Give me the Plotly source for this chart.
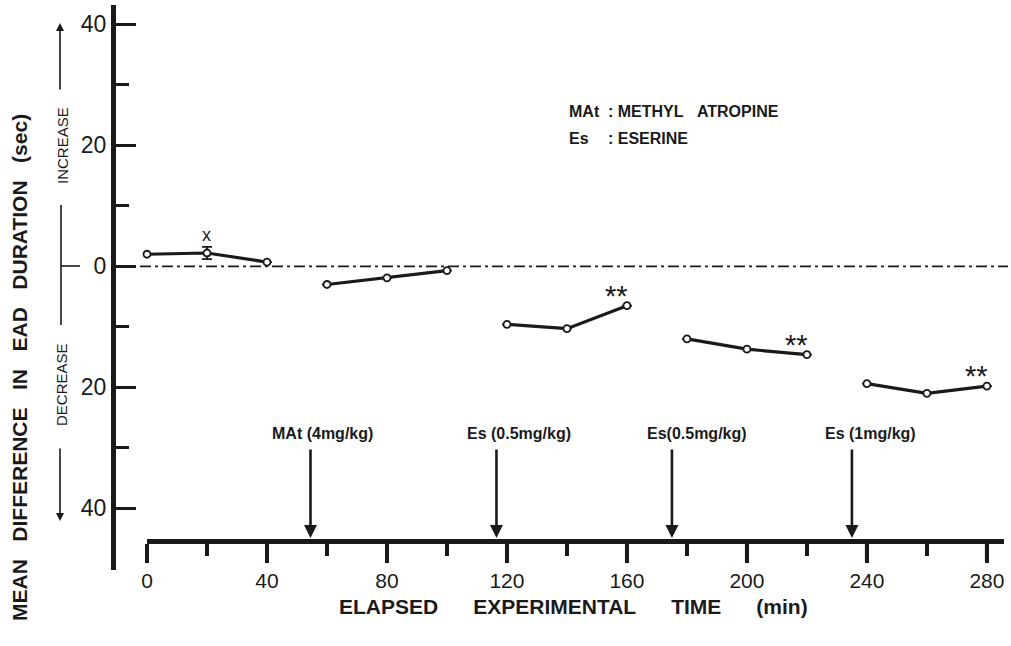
import plotly.graph_objects as go

# ---------------- data ----------------
group_times = [[0, 20, 40], [60, 80, 100], [120, 140, 160], [180, 200, 220], [240, 260, 280]]
group_means = [[2.0, 2.2, 0.7], [-3.0, -1.9, -0.7], [-9.6, -10.3, -6.5],
               [-12.0, -13.7, -14.6], [-19.4, -21.0, -19.8]]
group_errors = [[None, 1.0, None], [None] * 3, [None] * 3, [None] * 3, [None] * 3]
significant_groups = [2, 3, 4]          # '**' on last point of these groups
x_marked_group, x_marked_index = 0, 1   # 'x' mark

drug_times = [54.5, 116.5, 175, 235]
drug_labels = ["MAt (4mg/kg)", "Es (0.5mg/kg)", "Es(0.5mg/kg)", "Es (1mg/kg)"]
drug_label_shift_px = [-40, -31, -27, -29]

y_tickvals = [40, 20, 0, -20, -40]
y_ticktext = ["40", "20", "0", "20", "40"]
y_minorvals = [30, 10, -10, -30]
x_tickvals = [0, 40, 80, 120, 160, 200, 240, 280]
x_minorvals = [20, 60, 100, 140, 180, 220, 260]

# ---------------- layout geometry ----------------
L, R, T, B = 113, 7, 5, 76
W, H = 1011 - L - R, 646 - T - B
def px(x):
    return (x - L) / W
def py(y):
    return (646 - B - y) / H

Y_RANGE = [-50.2, 43.2]
X_RANGE = [0, 285.7]
def ydata(ypix):
    # pixel row -> data value on the y axis
    return Y_RANGE[1] - (ypix - T) * (Y_RANGE[1] - Y_RANGE[0]) / H

INK = "#1a1a1a"
FONT = "Liberation Sans Narrow, Arial Narrow, Liberation Sans, Arial, sans-serif"
BFONT = "Liberation Sans, Arial, sans-serif"
nb = "\u00a0"
XAXIS_ROW = 541

fig = go.Figure()
for t, m, e in zip(group_times, group_means, group_errors):
    fig.add_trace(go.Scatter(
        x=t, y=m, mode="lines+markers", cliponaxis=False,
        line=dict(color=INK, width=3.2),
        marker=dict(symbol="circle", size=7, color="white", line=dict(color=INK, width=1.8)),
        error_y=dict(type="data", array=e, visible=True, color=INK, thickness=1.8, width=5),
        showlegend=False, hoverinfo="skip"))

annotations = []
# significance marks
for g in significant_groups:
    annotations.append(dict(x=group_times[g][-1], y=group_means[g][-1], xref="x", yref="y",
                            text="**", showarrow=False, xshift=-10, yshift=-8, yanchor="bottom",
                            xanchor="center", font=dict(size=29, color=INK, family=BFONT)))
annotations.append(dict(x=group_times[x_marked_group][x_marked_index],
                        y=group_means[x_marked_group][x_marked_index], xref="x", yref="y",
                        text="x", showarrow=False, yshift=18, yanchor="middle", xanchor="center",
                        font=dict(size=18, color=INK, family=BFONT)))

# drug administration arrows + labels
for t, lab, sh in zip(drug_times, drug_labels, drug_label_shift_px):
    annotations.append(dict(x=t, y=ydata(538), xref="x", yref="y", axref="x", ayref="y",
                            ax=t, ay=ydata(448), text="", showarrow=True, arrowhead=2,
                            arrowsize=1, arrowwidth=2.6, arrowcolor=INK, standoff=0))
    annotations.append(dict(x=t, y=ydata(433), xref="x", yref="y", text="<b>%s</b>" % lab,
                            showarrow=False, xanchor="left", xshift=sh, yanchor="middle",
                            font=dict(size=16, color=INK, family=FONT)))

# key
key_font = dict(size=16, color=INK, family=BFONT)
annotations += [
    dict(x=px(567), y=py(112), xref="paper", yref="paper", text="<b>MAt</b>", showarrow=False,
         xanchor="left", yanchor="middle", font=key_font),
    dict(x=px(606), y=py(112), xref="paper", yref="paper",
         text="<b>:" + nb + "METHYL" + nb * 3 + "ATROPINE</b>", showarrow=False,
         xanchor="left", yanchor="middle", font=key_font),
    dict(x=px(567), y=py(139), xref="paper", yref="paper", text="<b>Es</b>", showarrow=False,
         xanchor="left", yanchor="middle", font=key_font),
    dict(x=px(606), y=py(139), xref="paper", yref="paper",
         text="<b>:" + nb + "ESERINE</b>", showarrow=False,
         xanchor="left", yanchor="middle", font=key_font),
]

# axis titles
annotations.append(dict(x=px(573), y=py(606), xref="paper", yref="paper",
                        text="<b>ELAPSED" + nb * 6 + "EXPERIMENTAL" + nb * 6 + "TIME" + nb * 6 + "(min)</b>",
                        showarrow=False, xanchor="center", yanchor="middle",
                        font=dict(size=21, color=INK, family=BFONT)))
annotations.append(dict(x=px(19), y=py(368), xref="paper", yref="paper", textangle=-90,
                        text="<b>MEAN" + nb * 3 + "DIFFERENCE" + nb * 3 + "IN" + nb * 3 + "EAD" + nb * 3
                             + "DURATION" + nb * 3 + "(sec)</b>",
                        showarrow=False, xanchor="center", yanchor="middle",
                        font=dict(size=21, color=INK, family=BFONT)))

# increase / decrease indicator
annotations += [
    dict(x=px(62), y=py(146), xref="paper", yref="paper", text="INCREASE", textangle=-90,
         showarrow=False, xanchor="center", yanchor="middle",
         font=dict(size=15, color=INK, family=BFONT)),
    dict(x=px(62), y=py(385), xref="paper", yref="paper", text="DECREASE", textangle=-90,
         showarrow=False, xanchor="center", yanchor="middle",
         font=dict(size=15, color=INK, family=BFONT)),
    dict(x=px(60), y=py(23), xref="paper", yref="paper", ax=0, ay=68, text="", showarrow=True,
         arrowhead=2, arrowsize=1, arrowwidth=1.6, arrowcolor=INK, standoff=0),
    dict(x=px(60), y=py(521), xref="paper", yref="paper", ax=0, ay=-74, text="", showarrow=True,
         arrowhead=2, arrowsize=1, arrowwidth=1.6, arrowcolor=INK, standoff=0),
]

shapes = [
    dict(type="line", xref="paper", yref="y", x0=px(140), x1=px(1008), y0=0, y1=0,
         line=dict(color=INK, width=1.6, dash="11px,4px,3px,4px")),
    dict(type="line", xref="paper", yref="paper", x0=px(61), x1=px(61), y0=py(205), y1=py(325),
         line=dict(color=INK, width=1.6)),
    dict(type="line", xref="paper", yref="paper", x0=px(61), x1=px(80), y0=py(266), y1=py(266),
         line=dict(color=INK, width=1.6)),
]
# long time-axis ticks at the labelled tick values, hanging below the time bar
for v in x_tickvals:
    shapes.append(dict(type="line", xref="x", yref="paper", x0=v, x1=v,
                       y0=py(XAXIS_ROW), y1=py(XAXIS_ROW + 20), layer="above",
                       line=dict(color=INK, width=4)))

fig.update_layout(
    width=1011, height=646, margin=dict(l=L, r=R, t=T, b=B),
    paper_bgcolor="white", plot_bgcolor="white", showlegend=False,
    xaxis=dict(domain=[px(147), 1], range=X_RANGE, anchor="free", position=py(XAXIS_ROW),
               showline=True, linewidth=5, linecolor=INK, showgrid=False, zeroline=False,
               tickmode="array", tickvals=x_tickvals, ticks="outside", ticklen=19, tickwidth=4,
               tickcolor=INK, minor=dict(tickvals=x_minorvals, ticks="outside", ticklen=12,
                                         tickwidth=4, tickcolor=INK, showgrid=False),
               tickfont=dict(size=21, color=INK, family=FONT)),
    yaxis=dict(domain=[0, 1], range=Y_RANGE, anchor="free", position=0,
               showline=True, linewidth=5, linecolor=INK, showgrid=False, zeroline=False,
               tickmode="array", tickvals=y_tickvals, ticktext=y_ticktext, ticks="inside",
               ticklen=20, tickwidth=3, tickcolor=INK,
               minor=dict(tickvals=y_minorvals, ticks="inside", ticklen=13, tickwidth=3,
                          tickcolor=INK, showgrid=False),
               tickfont=dict(size=23, color=INK, family=FONT)),
    annotations=annotations, shapes=shapes,
)

fig.write_html("out.html")
